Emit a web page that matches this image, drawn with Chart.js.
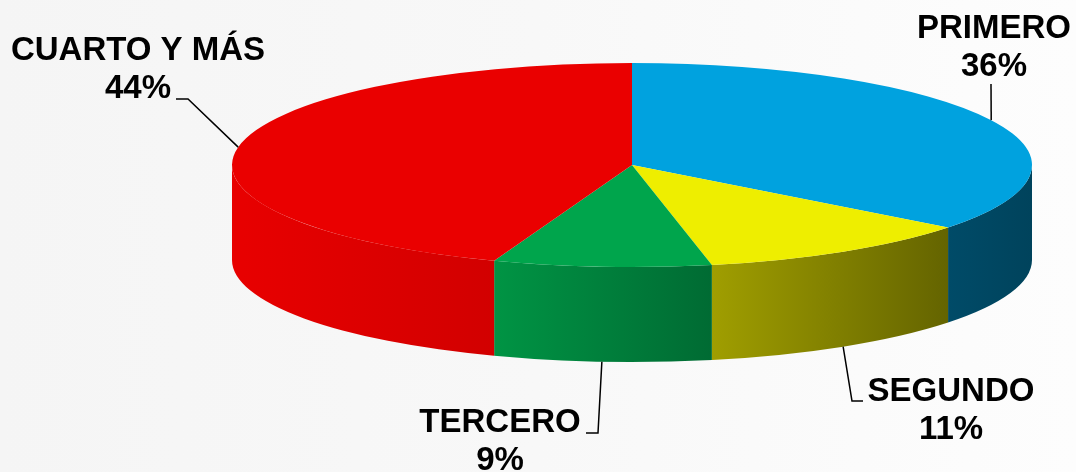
<!DOCTYPE html>
<html>
<head>
<meta charset="utf-8">
<script src="https://cdn.jsdelivr.net/npm/chart.js@4/dist/chart.umd.min.js"></script>
<style>
  html, body { margin: 0; padding: 0; }
  body { width: 1076px; height: 472px; overflow: hidden;
         background: linear-gradient(90deg, #f5f5f5 0%, #f8f8f8 50%, #fdfdfd 100%); }
  #chart { display: block; }
</style>
</head>
<body>
<canvas id="chart" width="1076" height="472"></canvas>
<script>
// ─── DATA ──────────────────────────────────────────────────────────────────
const CATEGORIES = ['PRIMERO', 'SEGUNDO', 'TERCERO', 'CUARTO Y MÁS'];
// slice sizes; labels show them rounded
const SHARES     = [35.5, 11.3, 8.8, 44.4];

// top face colour, then side wall colour (light end, dark end)
const TOP_COLORS  = ['#00a2df', '#eeee00', '#00a54c', '#ea0000'];
const SIDE_LIGHT  = ['#004b68', '#a09e00', '#009444', '#e80000'];
const SIDE_DARK   = ['#00435c', '#646400', '#006b33', '#d20000'];

// ─── LAYOUT (where the flattened pie and its call-outs sit) ────────────────
const PIE = { cx: 632, cy: 165, rx: 400, ry: 102, depth: 95 };
// text centre x, first baseline y, leader elbow, leader end
const CALLOUTS = [
  { tx: 994, ty: 38,  elbow: [991, 84],  end: [991, 84] },
  { tx: 951, ty: 401, elbow: [852, 401], end: [863, 401] },
  { tx: 500, ty: 432, elbow: [598, 433], end: [586, 433] },
  { tx: 138, ty: 60,  elbow: [188, 99],  end: [176, 99] },
];
const FONT = 'bold 33px "Liberation Sans", Arial, sans-serif';
const LINE_H = 38;

// Draws the side wall under the pie, squashes the top face into an ellipse,
// then adds the labels with their leader lines.
const pie3dPlugin = {
  id: 'pie3d',
  beforeDatasetsDraw(chart) {
    const { ctx } = chart;
    const arcs = chart.getDatasetMeta(0).data;
    const { cx, cy, rx, ry, depth } = PIE;

    arcs.forEach((arc, i) => {
      const a = Math.max(arc.startAngle, 0);
      const b = Math.min(arc.endAngle, Math.PI);
      if (a >= b) return;
      const xa = cx + rx * Math.cos(a), xb = cx + rx * Math.cos(b);
      const grad = ctx.createLinearGradient(xb, 0, xa, 0);
      grad.addColorStop(0, SIDE_LIGHT[i]);
      grad.addColorStop(1, SIDE_DARK[i]);
      ctx.save();
      ctx.beginPath();
      ctx.ellipse(cx, cy, rx, ry, 0, a, b);
      ctx.lineTo(xb, cy + ry * Math.sin(b) + depth);
      ctx.ellipse(cx, cy + depth, rx, ry, 0, b, a, true);
      ctx.closePath();
      ctx.fillStyle = grad;
      ctx.fill();
      ctx.restore();
    });

    // top face: map the library's circle onto the ellipse
    const ref = arcs[0];
    const r = ref.outerRadius;
    ctx.save();
    ctx.translate(cx, cy);
    ctx.scale(rx / r, ry / r);
    ctx.translate(-ref.x, -ref.y);
  },
  afterDatasetsDraw(chart) {
    const { ctx } = chart;
    ctx.restore();
    const arcs = chart.getDatasetMeta(0).data;
    const { cx, cy, rx, ry, depth } = PIE;

    ctx.save();
    ctx.font = FONT;
    ctx.fillStyle = '#000';
    ctx.textAlign = 'center';
    ctx.textBaseline = 'alphabetic';
    ctx.strokeStyle = '#000';
    ctx.lineWidth = 1.5;
    arcs.forEach((arc, i) => {
      const mid = (arc.startAngle + arc.endAngle) / 2;
      const norm = ((mid % (2 * Math.PI)) + 2 * Math.PI) % (2 * Math.PI);
      const front = norm > 0 && norm < Math.PI;
      const ax = cx + rx * Math.cos(mid);
      const ay = cy + ry * Math.sin(mid) + (front ? depth : 0);
      const c = CALLOUTS[i];
      ctx.beginPath();
      ctx.moveTo(ax, ay);
      ctx.lineTo(c.elbow[0], c.elbow[1]);
      ctx.lineTo(c.end[0], c.end[1]);
      ctx.stroke();
      ctx.fillText(CATEGORIES[i], c.tx, c.ty);
      ctx.fillText(Math.round(SHARES[i]) + '%', c.tx, c.ty + LINE_H);
    });
    ctx.restore();
  },
};

new Chart(document.getElementById('chart'), {
  type: 'pie',
  data: {
    labels: CATEGORIES,
    datasets: [{
      data: SHARES,
      backgroundColor: TOP_COLORS,
      borderWidth: 0,
    }],
  },
  options: {
    responsive: false,
    animation: false,
    events: [],
    plugins: { legend: { display: false }, tooltip: { enabled: false } },
  },
  plugins: [pie3dPlugin],
});
</script>
</body>
</html>
